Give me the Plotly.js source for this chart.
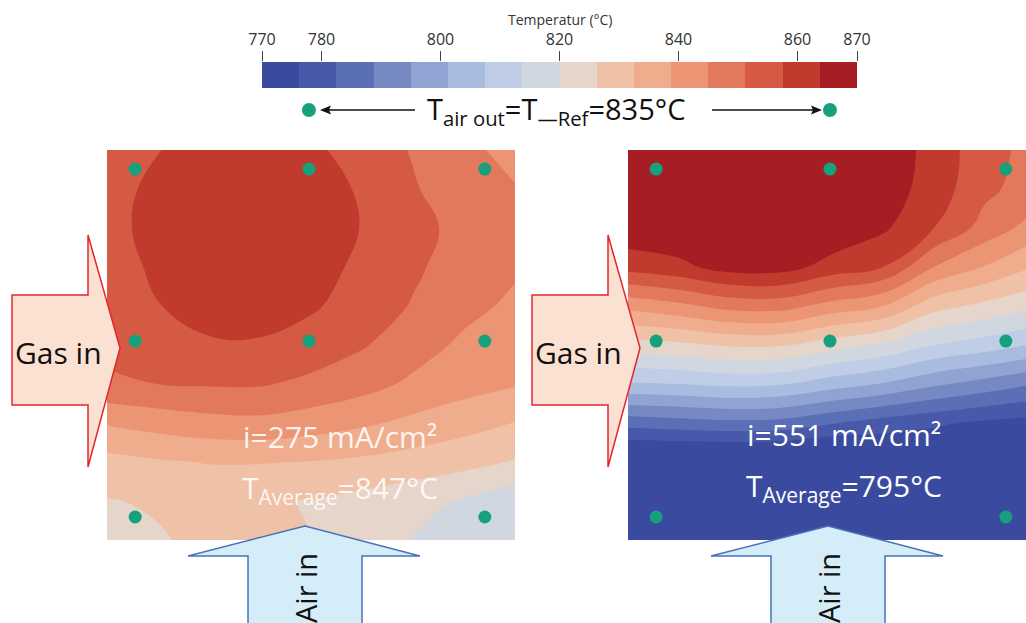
<!DOCTYPE html>
<html><head><meta charset="utf-8">
<script src="https://cdn.plot.ly/plotly-3.0.1.min.js"></script>
<style>html,body{margin:0;padding:0;overflow:hidden;background:#fff}#chart{width:1026px;height:623px}</style>
</head><body><div id="chart"></div>
<script>
// ---- data ----
const colU = [0, 0.125, 0.25, 0.375, 0.5, 0.625, 0.75, 0.875, 1];
const leftRowsV = [0, 0.1, 0.2, 0.3, 0.4, 0.5, 0.6, 0.7, 0.8, 0.9, 1];
const leftTemp = [
  [853.3, 857.3, 860.3, 860.8, 858.8, 854.8, 850.8, 846.3, 843.3],
  [854.8, 859.3, 861.8, 862.3, 860.3, 856.8, 851.8, 847.8, 845.3],
  [855.3, 859.8, 862.3, 862.8, 860.8, 857.3, 853.3, 849.3, 846.3],
  [854.3, 858.8, 861.3, 861.8, 859.8, 856.3, 852.3, 848.3, 845.8],
  [853.8, 857.3, 859.8, 860.3, 858.3, 854.8, 850.8, 846.8, 843.8],
  [852.8, 855.3, 856.8, 856.8, 854.8, 851.8, 847.8, 843.8, 841.3],
  [850.3, 851.3, 851.8, 851.8, 849.8, 847.3, 843.8, 841.3, 839.3],
  [839.3, 841.3, 842.8, 843.3, 841.8, 839.8, 837.3, 834.8, 832.3],
  [830.3, 831.8, 832.8, 832.8, 832.3, 831.3, 829.8, 828.3, 825.8],
  [826.0, 826.8, 827.3, 827.0, 826.0, 824.3, 822.3, 819.3, 815.5],
  [822.3, 825.8, 827.5, 827.5, 826.3, 823.3, 819.8, 817.0, 815.0]
];
const rightRowsV = [0, 0.1, 0.2, 0.3, 0.4, 0.5, 0.6, 0.7, 0.75, 1];
const rightTemp = [
  [868.3, 868.8, 869.3, 869.3, 868.8, 867.3, 861.8, 853.3, 849.3],
  [869.3, 869.8, 870.0, 870.0, 869.3, 867.3, 860.8, 852.8, 847.9],
  [868.3, 868.8, 869.3, 869.3, 868.8, 864.8, 857.5, 848.8, 842.1],
  [859.8, 862.2, 866.3, 866.3, 861.3, 857.5, 845.0, 838.4, 832.2],
  [840.6, 843.5, 847.1, 847.4, 842.6, 838.8, 828.6, 824.7, 821.1],
  [823.7, 824.9, 827.0, 826.9, 822.6, 819.2, 813.8, 810.8, 807.0],
  [806.7, 807.5, 808.8, 808.0, 804.1, 800.8, 796.1, 792.5, 788.8],
  [785.0, 786.1, 787.2, 786.6, 783.0, 779.7, 777.3, 775.1, 773.8],
  [774.6, 775.5, 775.9, 775.6, 773.0, 773.3, 772.8, 772.3, 772.1],
  [771.8, 771.8, 771.8, 771.8, 771.6, 771.6, 771.6, 771.6, 771.6]
];
const sensorU = [0.069, 0.495, 0.926, 0.069, 0.495, 0.926, 0.069, 0.926];
const sensorV = [0.049, 0.049, 0.049, 0.49, 0.49, 0.49, 0.941, 0.941];
const airOutU = 0.495;
const binMid = [773.125, 779.375, 785.625, 791.875, 798.125, 804.375, 810.625, 816.875,
                823.125, 829.375, 835.625, 841.875, 848.125, 854.375, 860.625, 866.875];
const binColors = ['#3a4b9f', '#4759a8', '#5a6fb5', '#7689c3', '#90a3d2', '#a9bcdf', '#bfcde6', '#d1d7e1',
                   '#e6d5ca', '#efc2a8', '#f0ad8e', '#eb9575', '#e2785c', '#d55a44', '#c13a2e', '#a61d24'];
const tickVals = [770, 780, 800, 820, 840, 860, 870];
const colorbarTitle = 'Temperatur (°C)';
const panelText = [
  {i: 'i=275 mA/cm²', t: 'T<sub>Average</sub>=847°C'},
  {i: 'i=551 mA/cm²', t: 'T<sub>Average</sub>=795°C'}
];

// ---- helpers ----
const W = 1026, H = 623;
const px = x => x / W, py = y => 1 - y / H;
const colorscale = binColors.map((c, i) => [i / (binColors.length - 1), c]);
const FONT = 'Open Sans, Noto Sans, sans-serif';
const contourCfg = {start: 776.25, end: 863.75, size: 6.25, coloring: 'fill', showlines: false};

function contourTrace(z, v, xa, ya) {
  return {type: 'contour', x: colU, y: v, z: z, colorscale: colorscale, contours: contourCfg,
          line: {width: 0, smoothing: 1.2}, showscale: false, xaxis: xa, yaxis: ya, hoverinfo: 'skip'};
}
function sensorTrace(xa, ya) {
  return {type: 'scatter', mode: 'markers', x: sensorU, y: sensorV, xaxis: xa, yaxis: ya,
          marker: {size: 13, color: '#17a07c'}, hoverinfo: 'skip', cliponaxis: false};
}
const traces = [
  contourTrace(leftTemp, leftRowsV, 'x', 'y'),
  contourTrace(rightTemp, rightRowsV, 'x2', 'y2'),
  sensorTrace('x', 'y'),
  sensorTrace('x2', 'y2'),
  {type: 'heatmap', x: binMid, y: [0.5], z: [binMid], colorscale: colorscale,
   zmin: binMid[0], zmax: binMid[binMid.length - 1], showscale: false, xaxis: 'x3', yaxis: 'y3', hoverinfo: 'skip'}
];

const hidden = {visible: false, fixedrange: true};
const yDom = [py(540), py(150)];

function pathFrom(pts) {
  return 'M' + pts.map(p => px(p[0]) + ',' + py(p[1])).join(' L') + ' Z';
}
function gasArrow(dx) {
  const pts = [[12,295],[88,295],[88,235],[120,348],[88,467],[88,405],[12,405]].map(p => [p[0] + dx, p[1]]);
  return {type: 'path', xref: 'paper', yref: 'paper', path: pathFrom(pts), layer: 'above',
          fillcolor: '#fbe1d2', line: {color: '#e3262e', width: 1.5}};
}
function airArrow(dx) {
  const pts = [[248,640],[248,556],[188,556],[305,526],[420,556],[362,556],[362,640]].map(p => [p[0] + dx, p[1]]);
  return {type: 'path', xref: 'paper', yref: 'paper', path: pathFrom(pts), layer: 'above',
          fillcolor: '#d5edf8', line: {color: '#4a72b8', width: 1.5}};
}
function dotShape(xref) {
  return {type: 'circle', xref: xref, yref: 'paper', xsizemode: 'pixel', ysizemode: 'pixel',
          xanchor: airOutU, yanchor: py(110), x0: -7, x1: 7, y0: -7, y1: 7,
          fillcolor: '#17a07c', line: {width: 0}, layer: 'above'};
}
function pointer(tailX, tipX) {
  const dir = Math.sign(tipX - tailX), y = 110;
  const baseX = tipX - dir * 11;
  return [
    {type: 'line', xref: 'paper', yref: 'paper', x0: px(tailX), x1: px(baseX + dir * 2), y0: py(y), y1: py(y),
     line: {color: '#111', width: 1.4}, layer: 'above'},
    {type: 'path', xref: 'paper', yref: 'paper', layer: 'above', fillcolor: '#111', line: {width: 0},
     path: pathFrom([[tipX, y], [baseX, y - 4.5], [baseX + dir * 2, y], [baseX, y + 4.5]])}
  ];
}
function txt(x, y, text, size, color, extra) {
  return Object.assign({xref: 'paper', yref: 'paper', x: px(x), y: py(y), text: text, showarrow: false,
          xanchor: 'center', yanchor: 'middle', font: {family: FONT, size: size, color: color}}, extra || {});
}

const layout = {
  width: W, height: H, margin: {l: 0, r: 0, t: 0, b: 0},
  paper_bgcolor: '#fff', plot_bgcolor: '#fff', showlegend: false,
  xaxis: Object.assign({domain: [px(107), px(515)], range: [0, 1], anchor: 'y'}, hidden),
  yaxis: Object.assign({domain: yDom, range: [1, 0], anchor: 'x'}, hidden),
  xaxis2: Object.assign({domain: [px(628), px(1026)], range: [0, 398 / 408], anchor: 'y2'}, hidden),
  yaxis2: Object.assign({domain: yDom, range: [1, 0], anchor: 'x2'}, hidden),
  xaxis3: {domain: [px(262), px(857)], range: [770, 870], anchor: 'y3', side: 'top',
           tickmode: 'array', tickvals: tickVals, ticks: 'outside', ticklen: 10, tickwidth: 1, tickcolor: '#444',
           tickfont: {family: FONT, size: 16, color: '#333'}, showgrid: false, zeroline: false, showline: false,
           fixedrange: true, automargin: false},
  yaxis3: Object.assign({domain: [py(88), py(62)], range: [0, 1], anchor: 'x3'}, hidden),
  shapes: [gasArrow(0), gasArrow(520), airArrow(0), airArrow(523), dotShape('x'), dotShape('x2')]
    .concat(pointer(415, 320), pointer(712, 822)),
  annotations: [
    txt(560, 20, colorbarTitle, 14, '#333'),
    txt(556, 110, 'T<sub>air out</sub>=T<sub>—Ref</sub>=835°C', 29, '#111'),
    txt(58, 352, 'Gas in', 30, '#111'),
    txt(578, 352, 'Gas in', 30, '#111'),
    txt(305, 588, 'Air in', 29, '#111', {textangle: -90}),
    txt(828, 588, 'Air in', 29, '#111', {textangle: -90}),
    txt(340, 436, panelText[0].i, 30, 'rgba(255,250,246,0.95)'),
    txt(340, 489, panelText[0].t, 30, 'rgba(255,250,246,0.95)'),
    txt(844, 434, panelText[1].i, 30, '#ffffff'),
    txt(844, 487, panelText[1].t, 30, '#ffffff')
  ]
};

Plotly.newPlot('chart', traces, layout, {staticPlot: true, displayModeBar: false});
</script>
</body></html>
